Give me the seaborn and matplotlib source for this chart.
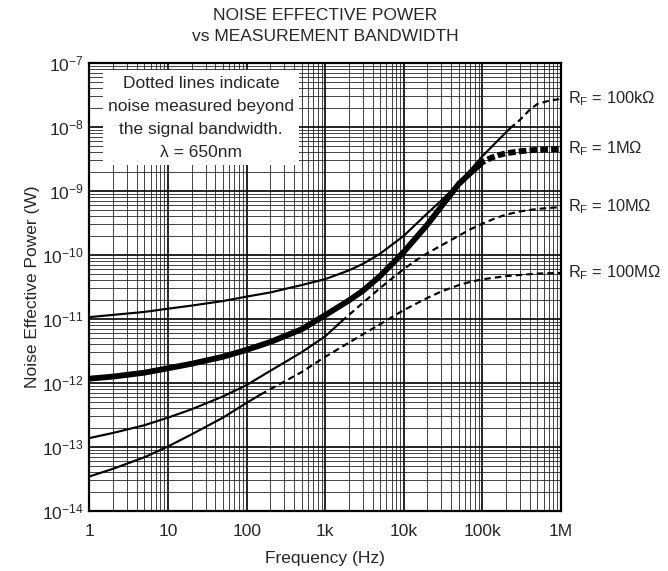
import numpy as np
import pandas as pd
import matplotlib
matplotlib.use("Agg")
import matplotlib.pyplot as plt
import matplotlib.ticker as mticker
import seaborn as sns

# ---------------- data ----------------
# R_F = 100 kOhm
a_f_solid = [1, 2, 5, 10, 20, 50, 100, 200, 500, 1e3, 2e3, 3e3, 5e3, 1e4, 2e4, 3e4, 5e4, 1e5, 1.5e5, 2.24e5]
a_p_solid = [1.07e-11, 1.16e-11, 1.29e-11, 1.45e-11, 1.62e-11, 1.91e-11, 2.24e-11, 2.6e-11, 3.39e-11,
             4.2e-11, 5.75e-11, 7.24e-11, 1.05e-10, 2.0e-10, 4.5e-10, 7.1e-10, 1.32e-9, 3.5e-9, 5.8e-9, 9.5e-9]
a_f_dash = [2.24e5, 3e5, 4e5, 5e5, 7e5, 1e6]
a_p_dash = [9.5e-9, 1.29e-8, 1.86e-8, 2.29e-8, 2.57e-8, 2.75e-8]

# R_F = 1 MOhm
b_f_solid = [1, 2, 5, 10, 20, 50, 100, 200, 500, 1e3, 2e3, 3e3, 5e3, 1e4, 2e4, 3e4, 5e4, 7e4, 9e4]
b_p_solid = [1.17e-12, 1.26e-12, 1.45e-12, 1.7e-12, 2.0e-12, 2.57e-12, 3.3e-12, 4.37e-12, 6.9e-12,
             1.15e-11, 1.95e-11, 2.75e-11, 4.7e-11, 1.12e-10, 3.0e-10, 5.75e-10, 1.29e-9, 1.9e-9, 2.5e-9]
b_f_dash = [9e4, 1e5, 1.3e5, 1.6e5, 2e5, 3e5, 5e5, 1e6]
b_p_dash = [2.5e-9, 2.82e-9, 3.31e-9, 3.63e-9, 3.89e-9, 4.17e-9, 4.42e-9, 4.52e-9]

# R_F = 10 MOhm
c_f_solid = [1, 2, 5, 10, 20, 50, 100, 200, 500, 1e3, 1.6e3]
c_p_solid = [1.38e-13, 1.66e-13, 2.19e-13, 2.88e-13, 3.89e-13, 6.17e-13, 9.3e-13, 1.55e-12, 3.02e-12,
             5.37e-12, 9.12e-12]
c_f_dash = [1.6e3, 3e3, 5e3, 7e3, 1e4, 1.4e4, 2e4, 3e4, 5e4, 7e4, 1e5, 1.5e5, 2e5, 3e5, 5e5, 1e6]
c_p_dash = [9.12e-12, 1.78e-11, 3.05e-11, 4.27e-11, 6.03e-11, 8.13e-11, 1.07e-10, 1.41e-10, 2.0e-10,
            2.51e-10, 3.09e-10, 3.8e-10, 4.27e-10, 4.79e-10, 5.25e-10, 5.62e-10]

# R_F = 100 MOhm
d_f_solid = [1, 2, 5, 10, 20, 50, 100, 150]
d_p_solid = [3.47e-14, 4.57e-14, 6.92e-14, 1.02e-13, 1.58e-13, 2.88e-13, 4.9e-13, 6.6e-13]
d_f_dash = [150, 300, 500, 1e3, 2e3, 5e3, 1e4, 2e4, 3e4, 5e4, 7e4, 1e5, 2e5, 5e5, 1e6]
d_p_dash = [6.6e-13, 1.05e-12, 1.48e-12, 2.57e-12, 4.27e-12, 8.32e-12, 1.38e-11, 2.14e-11, 2.69e-11,
            3.39e-11, 3.8e-11, 4.17e-11, 4.68e-11, 5.13e-11, 5.25e-11]

curve_labels = [r"R$_\mathregular{F}$ = 100kΩ", r"R$_\mathregular{F}$ = 1MΩ",
                r"R$_\mathregular{F}$ = 10MΩ", r"R$_\mathregular{F}$ = 100MΩ"]
x_tick_vals = [1, 10, 100, 1e3, 1e4, 1e5, 1e6]
x_tick_labels = ["1", "10", "100", "1k", "10k", "100k", "1M"]
y_exponents = [-14, -13, -12, -11, -10, -9, -8, -7]

# ---------------- style ----------------
sns.set_style("white")
plt.rcParams["font.family"] = ["Liberation Sans", "DejaVu Sans"]
plt.rcParams["mathtext.fontset"] = "custom"
plt.rcParams["mathtext.rm"] = "Liberation Sans"
plt.rcParams["mathtext.it"] = "Liberation Sans:italic"
plt.rcParams["mathtext.bf"] = "Liberation Sans:bold"
FS = 12.5

W, H = 668, 571
fig = plt.figure(figsize=(W / 100, H / 100), dpi=100)
L, R, T, B = 89.5, 561, 63, 511
ax = fig.add_axes([L / W, 1 - B / H, (R - L) / W, (B - T) / H])
ax.set_xscale("log")
ax.set_yscale("log")
ax.set_xlim(1, 1e6)
ax.set_ylim(1e-14, 1e-7)

thin = 1.55
thick = 4.2
dash_thin = (0, (3.0, 1.9))
dash_thick = (0, (1.3, 0.55))

def draw(f, p, lw, ls):
    df = pd.DataFrame({"f": f, "p": p})
    sns.lineplot(data=df, x="f", y="p", ax=ax, color="black", lw=lw, linestyle=ls,
                 estimator=None, sort=False, zorder=5)

draw(a_f_solid, a_p_solid, thin, "-")
draw(a_f_dash, a_p_dash, thin, dash_thin)
draw(b_f_solid, b_p_solid, thick, "-")
draw(b_f_dash, b_p_dash, thick, dash_thick)
draw(c_f_solid, c_p_solid, thin, "-")
draw(c_f_dash, c_p_dash, thin, dash_thin)
draw(d_f_solid, d_p_solid, thin, "-")
draw(d_f_dash, d_p_dash, thin, dash_thin)

# grid
ax.xaxis.set_major_locator(mticker.FixedLocator(x_tick_vals))
ax.xaxis.set_major_formatter(mticker.FixedFormatter(x_tick_labels))
ax.xaxis.set_minor_locator(mticker.LogLocator(base=10, subs=range(2, 10), numticks=100))
ax.xaxis.set_minor_formatter(mticker.NullFormatter())
ax.yaxis.set_major_locator(mticker.FixedLocator([10.0 ** e for e in y_exponents]))
ax.yaxis.set_major_formatter(mticker.FixedFormatter([r"10$^{\mathregular{%d}}$" % e for e in y_exponents]))
ax.yaxis.set_minor_locator(mticker.LogLocator(base=10, subs=range(2, 10), numticks=100))
ax.yaxis.set_minor_formatter(mticker.NullFormatter())
ax.grid(True, which="major", color="black", lw=1.2, zorder=1)
ax.grid(True, which="minor", color="#222222", lw=0.6, zorder=1)
ax.set_axisbelow(True)
ax.tick_params(which="both", length=0)
ax.tick_params(axis="x", pad=9, labelsize=FS)
ax.tick_params(axis="y", pad=4, labelsize=FS)
for s in ax.spines.values():
    s.set_color("black")
    s.set_linewidth(1.6)
ax.set_xlabel("")
ax.set_ylabel("")

# right-hand labels
ends = [a_p_dash[-1], b_p_dash[-1], c_p_dash[-1], d_p_dash[-1]]
for lab, yv in zip(curve_labels, ends):
    ax.annotate(lab, xy=(1e6, yv), xytext=(5, 0), textcoords="offset points",
                ha="left", va="center", fontsize=11.8, annotation_clip=False)

# note box
ax.text(0.237, 0.972, "Dotted lines indicate\nnoise measured beyond\nthe signal bandwidth.\nλ = 650nm",
        transform=ax.transAxes, ha="center", va="top", fontsize=FS, linespacing=1.68, zorder=6,
        bbox=dict(boxstyle="square,pad=0.3", fc="white", ec="none"))

# titles and axis labels
fig.text(325 / W, 1 - 26 / H, "NOISE EFFECTIVE POWER\nvs MEASUREMENT BANDWIDTH",
         ha="center", va="center", fontsize=FS, linespacing=1.55)
fig.text(325 / W, 1 - 558 / H, "Frequency (Hz)", ha="center", va="center", fontsize=FS)
fig.text(33 / W, 1 - 287 / H, "Noise Effective Power (W)", ha="center", va="center",
         rotation=90, fontsize=FS)

fig.savefig("out.png", dpi=100)
